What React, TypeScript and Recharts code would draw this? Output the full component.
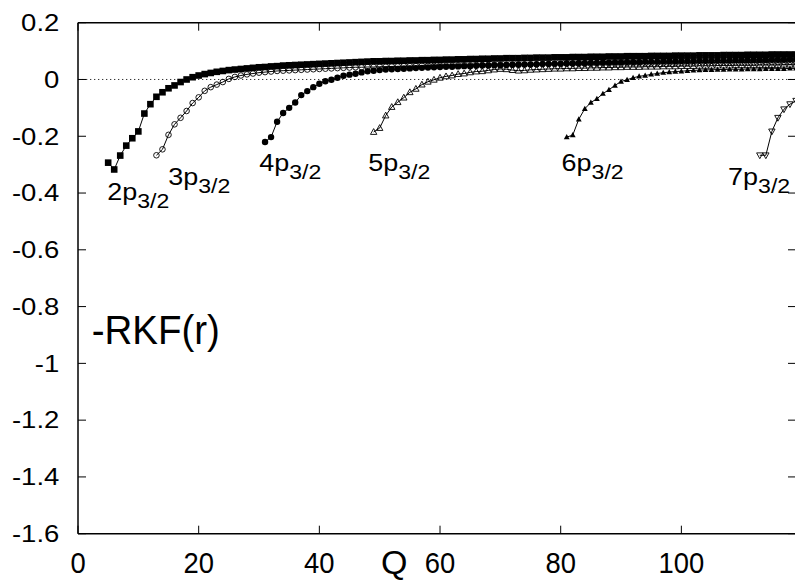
import React from "react";
import { LineChart, Line, XAxis, YAxis, ReferenceLine, ReferenceDot } from "recharts";

const FONT = "'Liberation Sans', Arial, Helvetica, sans-serif";

// x ticks (Q) and y ticks (-RKF(r))
const xTicks = [0, 20, 40, 60, 80, 100];
const yTicks = [0.2, 0, -0.2, -0.4, -0.6, -0.8, -1, -1.2, -1.4, -1.6];

// each series starts at an integer Q and has one value per unit step of Q
const p2Start = 5;
const p2Values = [
  -0.293, -0.317, -0.268, -0.233, -0.207, -0.183, -0.12, -0.087, -0.061, -0.045,
  -0.031, -0.021, -0.009, 0.0, 0.008, 0.014, 0.019, 0.023, 0.027, 0.03,
  0.033, 0.035, 0.037, 0.039, 0.041, 0.043, 0.044, 0.046, 0.047, 0.049,
  0.05, 0.051, 0.052, 0.053, 0.054, 0.055, 0.056, 0.057, 0.058, 0.059,
  0.06, 0.061, 0.062, 0.063, 0.064, 0.064, 0.065, 0.065, 0.066, 0.066,
  0.067, 0.067, 0.068, 0.068, 0.069, 0.069, 0.07, 0.07, 0.071, 0.071,
  0.072, 0.072, 0.073, 0.073, 0.074, 0.074, 0.075, 0.075, 0.075, 0.076,
  0.076, 0.077, 0.077, 0.077, 0.078, 0.078, 0.078, 0.079, 0.079, 0.079,
  0.08, 0.08, 0.08, 0.081, 0.081, 0.081, 0.082, 0.082, 0.082, 0.082,
  0.083, 0.083, 0.083, 0.083, 0.084, 0.084, 0.084, 0.084, 0.085, 0.085,
  0.085, 0.085, 0.086, 0.086, 0.086, 0.086, 0.087, 0.087, 0.087, 0.087,
  0.088, 0.088, 0.088, 0.088, 0.088,
];

const p3Start = 13;
const p3Values = [
  -0.267, -0.246, -0.195, -0.158, -0.135, -0.111, -0.083, -0.063, -0.04, -0.027,
  -0.018, -0.009, 0.002, 0.009, 0.014, 0.018, 0.021, 0.024, 0.026, 0.028,
  0.03, 0.031, 0.032, 0.033, 0.034, 0.035, 0.036, 0.037, 0.038, 0.039,
  0.04, 0.041, 0.042, 0.043, 0.043, 0.044, 0.044, 0.045, 0.045, 0.046,
  0.046, 0.047, 0.047, 0.047, 0.048, 0.048, 0.048, 0.049, 0.049, 0.049,
  0.05, 0.05, 0.05, 0.051, 0.051, 0.051, 0.052, 0.052, 0.052, 0.052,
  0.053, 0.053, 0.053, 0.053, 0.054, 0.054, 0.054, 0.054, 0.055, 0.055,
  0.055, 0.055, 0.055, 0.056, 0.056, 0.056, 0.056, 0.056, 0.057, 0.057,
  0.057, 0.057, 0.057, 0.058, 0.058, 0.058, 0.058, 0.058, 0.058, 0.059,
  0.059, 0.059, 0.059, 0.059, 0.06, 0.06, 0.06, 0.06, 0.06, 0.06,
  0.061, 0.061, 0.061, 0.061, 0.061, 0.062, 0.062,
];

const p4Start = 31;
const p4Values = [
  -0.22, -0.203, -0.149, -0.118, -0.1, -0.081, -0.055, -0.041, -0.027, -0.015,
  -0.006, -0.001, 0.006, 0.013, 0.017, 0.02, 0.025, 0.029, 0.031, 0.033,
  0.035, 0.036, 0.037, 0.038, 0.039, 0.04, 0.041, 0.042, 0.043, 0.044,
  0.045, 0.045, 0.046, 0.047, 0.047, 0.048, 0.049, 0.049, 0.05, 0.05,
  0.051, 0.052, 0.052, 0.053, 0.053, 0.054, 0.055, 0.055, 0.056, 0.056,
  0.057, 0.057, 0.058, 0.058, 0.059, 0.059, 0.06, 0.06, 0.061, 0.061,
  0.062, 0.062, 0.062, 0.063, 0.063, 0.063, 0.064, 0.064, 0.064, 0.065,
  0.065, 0.065, 0.066, 0.066, 0.066, 0.067, 0.067, 0.067, 0.068, 0.068,
  0.068, 0.069, 0.069, 0.069, 0.07, 0.07, 0.07, 0.071, 0.071,
];

const p5Start = 49;
const p5Values = [
  -0.185, -0.171, -0.127, -0.097, -0.08, -0.064, -0.045, -0.033, -0.018, -0.008,
  -0.001, 0.006, 0.011, 0.014, 0.019, 0.021, 0.025, 0.028, 0.029, 0.032,
  0.035, 0.037, 0.036, 0.033, 0.031, 0.032, 0.034, 0.035, 0.036, 0.037,
  0.038, 0.038, 0.039, 0.039, 0.04, 0.04, 0.041, 0.041, 0.042, 0.042,
  0.043, 0.043, 0.044, 0.044, 0.044, 0.045, 0.045, 0.045, 0.046, 0.046,
  0.046, 0.047, 0.047, 0.047, 0.048, 0.048, 0.048, 0.049, 0.049, 0.049,
  0.05, 0.05, 0.05, 0.05, 0.051, 0.051, 0.051, 0.051, 0.052, 0.052,
  0.052,
];

const p6Start = 81;
const p6Values = [
  -0.203, -0.196, -0.14, -0.103, -0.081, -0.068, -0.05, -0.036, -0.021, -0.007,
  -0.001, 0.006, 0.011, 0.014, 0.018, 0.021, 0.024, 0.026, 0.028, 0.029,
  0.031, 0.032, 0.033, 0.034, 0.034, 0.035, 0.035, 0.036, 0.036, 0.036,
  0.037, 0.037, 0.037, 0.038, 0.038, 0.038, 0.038, 0.039, 0.039,
];

const p7Start = 113;
const p7Values = [-0.267, -0.267, -0.183, -0.135, -0.105, -0.087, -0.075];

// curve labels: name, Q and value of the label's left baseline
const labelNames = ["2p", "3p", "4p", "5p", "6p", "7p"];
const labelQ = [4.85, 14.96, 30.04, 48.1, 80.15, 107.75];
const labelV = [-0.425, -0.373, -0.322, -0.322, -0.322, -0.373];

const toSeries = (start: number, values: number[]) =>
  values.map((v, i) => ({ q: start + i, v }));

type MarkerKind = "square" | "openCircle" | "circle" | "openUp" | "up" | "openDown";

function marker(kind: MarkerKind) {
  return (props: any) => {
    const { cx, cy, index } = props;
    if (cx == null || cy == null) return <g key={index} />;
    const k = `${kind}-${index}`;
    switch (kind) {
      case "square":
        return <rect key={k} x={cx - 3.3} y={cy - 3.3} width={6.6} height={6.6} fill="#000" />;
      case "openCircle":
        return <circle key={k} cx={cx} cy={cy} r={2.8} fill="none" stroke="#000" strokeWidth={0.9} />;
      case "circle":
        return <circle key={k} cx={cx} cy={cy} r={3.2} fill="#000" />;
      case "openUp":
        return (
          <polygon key={k} points={`${cx},${cy - 3.4} ${cx - 3.2},${cy + 2.4} ${cx + 3.2},${cy + 2.4}`}
            fill="none" stroke="#000" strokeWidth={0.9} />
        );
      case "up":
        return (
          <polygon key={k} points={`${cx},${cy - 3} ${cx - 2.9},${cy + 2.2} ${cx + 2.9},${cy + 2.2}`} fill="#000" />
        );
      default:
        return (
          <polygon key={k} points={`${cx},${cy + 3.4} ${cx - 3.2},${cy - 2.4} ${cx + 3.2},${cy - 2.4}`}
            fill="none" stroke="#000" strokeWidth={0.9} />
        );
    }
  };
}

const YTickLeft = (props: any) => {
  const { x, y, payload } = props;
  return (
    <g>
      <line x1={x} x2={x + 8} y1={y} y2={y} stroke="#000" strokeWidth={1} />
      <text transform={`translate(${x - 18.7},${y + 8.3}) scale(1.18,1)`} textAnchor="end"
        fontSize={23.3} fontFamily={FONT} fill="#000">{String(payload.value)}</text>
    </g>
  );
};

const YTickRight = (props: any) => {
  const { x, y } = props;
  return <line x1={x - 8} x2={x} y1={y} y2={y} stroke="#000" strokeWidth={1} />;
};

const XTickBottom = (props: any) => {
  const { x, y, payload } = props;
  return (
    <g>
      <line x1={x} x2={x} y1={y} y2={y - 8} stroke="#000" strokeWidth={1} />
      <text transform={`translate(${x},${y + 39}) scale(1,1.07)`} textAnchor="middle"
        fontSize={27.4} fontFamily={FONT} fill="#000">{String(payload.value)}</text>
    </g>
  );
};

const XTickTop = (props: any) => {
  const { x, y } = props;
  return <line x1={x} x2={x} y1={y} y2={y + 8} stroke="#000" strokeWidth={1} />;
};

const CurveLabel = (name: string) => (props: any) => {
  const { cx, cy } = props;
  return (
    <g transform={`translate(${cx},${cy}) scale(1.1,1)`}>
      <text x={0} y={0} fontSize={24.5} fontFamily={FONT} fill="#000">
        {name}
        <tspan fontSize={21} dy={8}>3/2</tspan>
      </text>
    </g>
  );
};

const series: { start: number; values: number[]; kind: MarkerKind }[] = [
  { start: p2Start, values: p2Values, kind: "square" },
  { start: p3Start, values: p3Values, kind: "openCircle" },
  { start: p4Start, values: p4Values, kind: "circle" },
  { start: p5Start, values: p5Values, kind: "openUp" },
  { start: p6Start, values: p6Values, kind: "up" },
  { start: p7Start, values: p7Values, kind: "openDown" },
];

export default function App() {
  return (
    <div style={{ position: "relative", width: 795, height: 583, overflow: "hidden", background: "#fff" }}>
      <style>{"body{margin:0}"}</style>
      <LineChart width={800} height={583} margin={{ top: 21.7, right: 3, bottom: 48.3, left: 77 }}>
        <XAxis dataKey="q" type="number" domain={[0, 119]} ticks={xTicks} allowDataOverflow
          height={1} tickSize={0} tickMargin={0} interval={0}
          axisLine={{ stroke: "#000", strokeWidth: 1.5 }} tickLine={false} tick={<XTickBottom />} />
        <XAxis xAxisId="top" orientation="top" dataKey="q" type="number" domain={[0, 119]} ticks={xTicks}
          allowDataOverflow height={1} tickSize={0} tickMargin={0} interval={0}
          axisLine={{ stroke: "#000", strokeWidth: 1.5 }} tickLine={false} tick={<XTickTop />} />
        <YAxis type="number" domain={[-1.6, 0.2]} ticks={yTicks} allowDataOverflow width={1}
          tickSize={0} tickMargin={0} interval={0}
          axisLine={{ stroke: "#000", strokeWidth: 1.5 }} tickLine={false} tick={<YTickLeft />} />
        <YAxis yAxisId="right" orientation="right" type="number" domain={[-1.6, 0.2]} ticks={yTicks}
          allowDataOverflow width={1} tickSize={0} tickMargin={0} interval={0}
          axisLine={false} tickLine={false} tick={<YTickRight />} />
        <ReferenceLine y={0} stroke="#333" strokeWidth={1} strokeDasharray="1.3 2.7" />
        {series.map((s, i) => (
          <Line key={i} data={toSeries(s.start, s.values)} dataKey="v" type="linear"
            stroke="#000" strokeWidth={1} dot={marker(s.kind)} activeDot={false}
            isAnimationActive={false} />
        ))}
        {labelNames.map((n, i) => (
          <ReferenceDot key={n} x={labelQ[i]} y={labelV[i]} r={0} shape={CurveLabel(n)} />
        ))}
      </LineChart>
      <svg width={795} height={583} style={{ position: "absolute", left: 0, top: 0, pointerEvents: "none" }}>
        <text transform="translate(91.7,344.3) scale(1,1.06)" fontSize={38.5} fontFamily={FONT} fill="#000">-RKF(r)</text>
        <text x={381} y={574} fontSize={34} fontFamily={FONT} fill="#000">Q</text>
      </svg>
    </div>
  );
}
